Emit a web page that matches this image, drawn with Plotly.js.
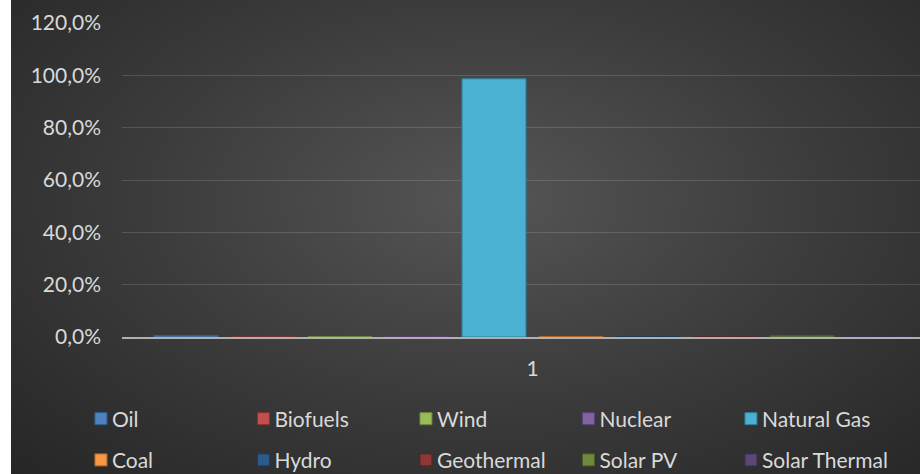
<!DOCTYPE html>
<html>
<head>
<meta charset="utf-8">
<script src="https://cdn.plot.ly/plotly-3.0.1.min.js"></script>
<style>
  html, body { margin: 0; padding: 0; background: #ffffff; overflow: hidden; }
  #frame {
    position: absolute; left: 11px; top: 0; width: 909px; height: 474px; overflow: hidden;
    background: radial-gradient(ellipse farthest-corner at 52% 42%, #555555 0%, #3c3c3c 50%, #262626 100%);
  }
  #chart { position: absolute; left: 0; top: 0; }
</style>
</head>
<body>
<div id="frame"><div id="chart"></div></div>
<script>
// Energy source shares for category "1"
const categories = ['1'];
const sources = ['Oil', 'Biofuels', 'Wind', 'Nuclear', 'Natural Gas',
                 'Coal', 'Hydro', 'Geothermal', 'Solar PV', 'Solar Thermal'];
const shares = [0.006, 0.000, 0.001, 0.000, 0.987,
                0.001, 0.001, 0.000, 0.005, 0.001];
const colors = ['#4F81BD', '#C0504D', '#9BBB59', '#8064A2', '#4BB0D2',
                '#F79646', '#2C5A8C', '#8C3836', '#71893F', '#5C4776'];
const lineColors = ['#2f5f96', '#8c2f2c', '#6d8a36', '#5a437a', '#2b8099',
                    '#b86a25', '#1c3b5e', '#5e2220', '#4b5d28', '#3d2e50'];
const yTicks = [0, 0.2, 0.4, 0.6, 0.8, 1.0, 1.2];
const yTickLabels = ['0,0%', '20,0%', '40,0%', '60,0%', '80,0%', '100,0%', '120,0%'];

const traces = sources.map((name, i) => ({
  type: 'bar',
  name: name,
  x: categories,
  y: [shares[i]],
  marker: { color: colors[i], line: { color: lineColors[i], width: 1 } },
  legend: i < 5 ? 'legend' : 'legend2',
  hoverinfo: 'skip'
}));

const font = { family: 'Lato, "Open Sans", sans-serif', size: 21, color: '#d9d9d9' };

// two legend rows, five entries each
const legendCommon = {
  orientation: 'h',
  xref: 'container',
  yref: 'container',
  xanchor: 'left',
  yanchor: 'middle',
  x: 0.0635,
  bgcolor: 'rgba(0,0,0,0)',
  borderwidth: 0,
  font: font,
  entrywidth: 117.5,
  itemclick: false,
  itemdoubleclick: false
};

const layout = {
  width: 960,
  height: 474,
  margin: { l: 111, r: 28, t: 23, b: 137, autoexpand: false },
  paper_bgcolor: 'rgba(0,0,0,0)',
  plot_bgcolor: 'rgba(0,0,0,0)',
  font: font,
  barmode: 'group',
  bargap: 0.062,
  bargroupgap: 0.169,
  showlegend: true,
  legend: Object.assign({}, legendCommon, { y: 0.116 }),
  legend2: Object.assign({}, legendCommon, { y: 0.029 }),
  xaxis: {
    type: 'category',
    showgrid: false,
    showline: true,
    linecolor: '#b0b0b0',
    linewidth: 2,
    ticks: '',
    ticklabelstandoff: 12,
    layer: 'below traces',
    tickfont: font,
    fixedrange: true
  },
  yaxis: {
    range: [0, 1.2],
    tickvals: yTicks,
    ticktext: yTickLabels,
    showgrid: true,
    gridcolor: 'rgba(255,255,255,0.14)',
    gridwidth: 1,
    zeroline: false,
    showline: false,
    ticks: '',
    ticklabelstandoff: 20,
    tickfont: font,
    fixedrange: true
  }
};

Plotly.newPlot('chart', traces, layout, { displayModeBar: false, staticPlot: true })
  .then(() => {
    // let the last legend label run past its fixed entry width
    document.querySelectorAll('#chart .scrollbox').forEach(el => el.removeAttribute('clip-path'));
    // tuck the legend swatches closer to their labels
    document.querySelectorAll('#chart .legendsymbols').forEach(el => el.setAttribute('transform', 'translate(9,0)'));
  });
</script>
</body>
</html>
